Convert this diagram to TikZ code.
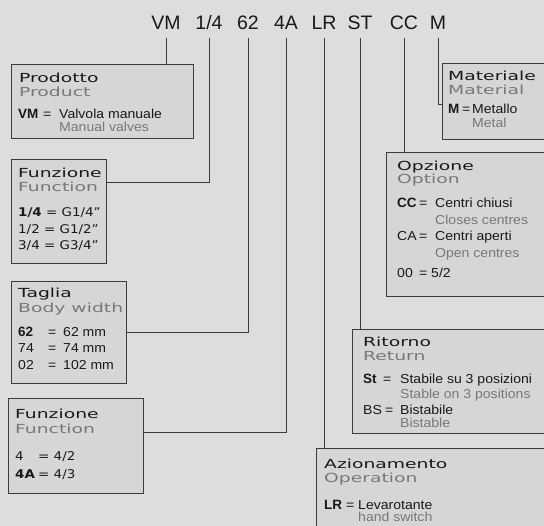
\documentclass[tikz,border=0pt]{standalone}
\usepackage{fontspec}
\setmainfont{Liberation Sans}
\newfontfamily\headfont[FakeStretch=1.5]{DejaVu Sans}
\newfontfamily\bodyfont[FakeStretch=1.08]{Liberation Sans}
\newfontfamily\keyfont{Liberation Sans}
\newfontfamily\fnfont[FakeStretch=1.12]{DejaVu Sans}
\definecolor{bg}{RGB}{220,221,223}
\definecolor{boxfill}{RGB}{213,214,216}
\definecolor{boxline}{RGB}{60,60,62}
\definecolor{ink}{RGB}{25,25,25}
\definecolor{soft}{RGB}{120,120,122}
\tikzset{
  box/.style={draw=boxline, fill=boxfill, line width=0.8pt, anchor=north west, inner sep=0pt},
  hd/.style={anchor=base west, inner sep=0pt, text=ink, font=\headfont\fontsize{12.5}{14}\selectfont},
  sub/.style={hd, text=soft},
  bd/.style={anchor=base west, inner sep=0pt, text=ink, font=\bodyfont\fontsize{13}{15}\selectfont},
  bdg/.style={bd, text=soft},
  bdb/.style={bd, font=\keyfont\bfseries\fontsize{13.5}{15}\selectfont},
  fn/.style={anchor=base west, inner sep=0pt, text=ink, font=\fnfont\fontsize{12}{14}\selectfont},
  fnb/.style={fn, font=\fnfont\bfseries\fontsize{12}{14}\selectfont},
  code/.style={anchor=base, inner sep=0pt, text=ink, font=\fontsize{19.5}{22}\selectfont},
  conn/.style={draw=boxline, line width=0.8pt}
}
\begin{document}
\begin{tikzpicture}[x=1pt,y=-1pt]
\clip (0,0) rectangle (544,526);
\fill[bg] (0,0) rectangle (544,526);
% codes
\node[code] (cVM) at (166,30) {VM};
\node[code] (c14) at (209,30) {1/4};
\node[code] (c62) at (248,30) {62};
\node[code] (c4A) at (286,30) {4A};
\node[code] (cLR) at (324,30) {LR};
\node[code] (cST) at (360,30) {ST};
\node[code] (cCC) at (404,30) {CC};
\node[code] (cM) at (438,30) {M};
% boxes
\node[box, minimum width=182pt, minimum height=74pt] (b1) at (11,64) {};
\node[box, minimum width=95pt, minimum height=104pt] (b2) at (11,159) {};
\node[box, minimum width=115pt, minimum height=102pt] (b3) at (11,281) {};
\node[box, minimum width=135pt, minimum height=95pt] (b4) at (8,398) {};
\node[box, minimum width=130pt, minimum height=76pt] (bM) at (442,63) {};
\node[box, minimum width=180pt, minimum height=144pt] (bO) at (386,152) {};
\node[box, minimum width=210pt, minimum height=104pt] (bR) at (352,329) {};
\node[box, minimum width=250pt, minimum height=100pt] (bA) at (316,448) {};
% connectors
\draw[conn] ([yshift=-8pt]cVM.base) -- (cVM.base |- b1.north);
\draw[conn] ([yshift=-8pt]c14.base) |- (b2.east |- 0,182);
\draw[conn] ([yshift=-8pt]c62.base) |- (b3.east |- 0,332);
\draw[conn] ([yshift=-8pt]c4A.base) |- (b4.east |- 0,432);
\draw[conn] ([yshift=-8pt]cLR.base) -- (cLR.base |- bA.north);
\draw[conn] ([yshift=-8pt]cST.base) -- (cST.base |- bR.north);
\draw[conn] ([yshift=-8pt]cCC.base) -- (cCC.base |- bO.north);
\draw[conn] ([yshift=-8pt]cM.base) |- (bM.west |- 0,104);
% box 1
\node[hd] (t1a) at (19,83) {Prodotto};
\node[sub] (t1b) at (19,97) {Product};
\node[bdb] (t1c) at (18,119) {VM};
\node[bd] (t1d) at (43,119) {=};
\node[bd] (t1e) at (59,119) {Valvola manuale};
\node[bdg] (t1f) at (59,132) {Manual valves};
% box 2
\node[hd] (t2a) at (18,178) {Funzione};
\node[sub] (t2b) at (18,192) {Function};
\node[fn] (t2c) at (18,217) {\textbf{1/4} = G1/4”};
\node[fn] (t2d) at (18,234) {1/2 = G1/2”};
\node[fn] (t2e) at (18,250) {3/4 = G3/4”};
% box 3
\node[hd] (t3a) at (18,298) {Taglia};
\node[sub] (t3b) at (18,313) {Body width};
\node[bdb] (t3c) at (18,337) {62};
\node[bd] (t3d) at (48,337) {=};
\node[bd] (t3e) at (63,337) {62 mm};
\node[bd] (t3f) at (18,353) {74};
\node[bd] (t3g) at (48,353) {=};
\node[bd] (t3h) at (63,353) {74 mm};
\node[bd] (t3i) at (18,370) {02};
\node[bd] (t3j) at (48,370) {=};
\node[bd] (t3k) at (63,370) {102 mm};
% box 4
\node[hd] (t4a) at (15,419) {Funzione};
\node[sub] (t4b) at (15,434) {Function};
\node[fn] (t4c) at (15,461) {4};
\node[fn] (t4d) at (38,461) {= 4/2};
\node[fnb] (t4e) at (15,479) {4A};
\node[fn] (t4f) at (38,479) {= 4/3};
% box M
\node[hd] (tMa) at (448,81) {Materiale};
\node[sub] (tMb) at (448,95) {Material};
\node[bdb] (tMc) at (448,114) {M};
\node[bd] (tMd) at (462,114) {=};
\node[bd] (tMe) at (472,114) {Metallo};
\node[bdg] (tMf) at (472,128) {Metal};
% box O
\node[hd] (tOa) at (397,171) {Opzione};
\node[sub] (tOb) at (397,184) {Option};
\node[bdb] (tOc) at (397,208) {CC};
\node[bd] (tOd) at (419,208) {=};
\node[bd] (tOe) at (435,208) {Centri chiusi};
\node[bdg] (tOf) at (435,225) {Closes centres};
\node[bd] (tOg) at (397,241) {CA};
\node[bd] (tOh) at (419,241) {=};
\node[bd] (tOi) at (435,241) {Centri aperti};
\node[bdg] (tOj) at (435,258) {Open centres};
\node[bd] (tOk) at (397,278) {00};
\node[bd] (tOl) at (419,278) {=};
\node[bd] (tOm) at (431,278) {5/2};
% box R
\node[hd] (tRa) at (363,347) {Ritorno};
\node[sub] (tRb) at (363,361) {Return};
\node[bdb] (tRc) at (363,384) {St};
\node[bd] (tRd) at (383,384) {=};
\node[bd] (tRe) at (400,384) {Stabile su 3 posizioni};
\node[bdg] (tRf) at (400,399) {Stable on 3 positions};
\node[bd] (tRg) at (363,415) {BS};
\node[bd] (tRh) at (385,415) {=};
\node[bd] (tRi) at (400,415) {Bistabile};
\node[bdg] (tRj) at (400,428) {Bistable};
% box A
\node[hd] (tAa) at (324,469) {Azionamento};
\node[sub] (tAb) at (324,483) {Operation};
\node[bdb] (tAc) at (324,510) {LR};
\node[bd] (tAd) at (346,510) {=};
\node[bd] (tAe) at (358,510) {Levarotante};
\node[bdg] (tAf) at (358,522) {hand switch};
\end{tikzpicture}
\end{document}
